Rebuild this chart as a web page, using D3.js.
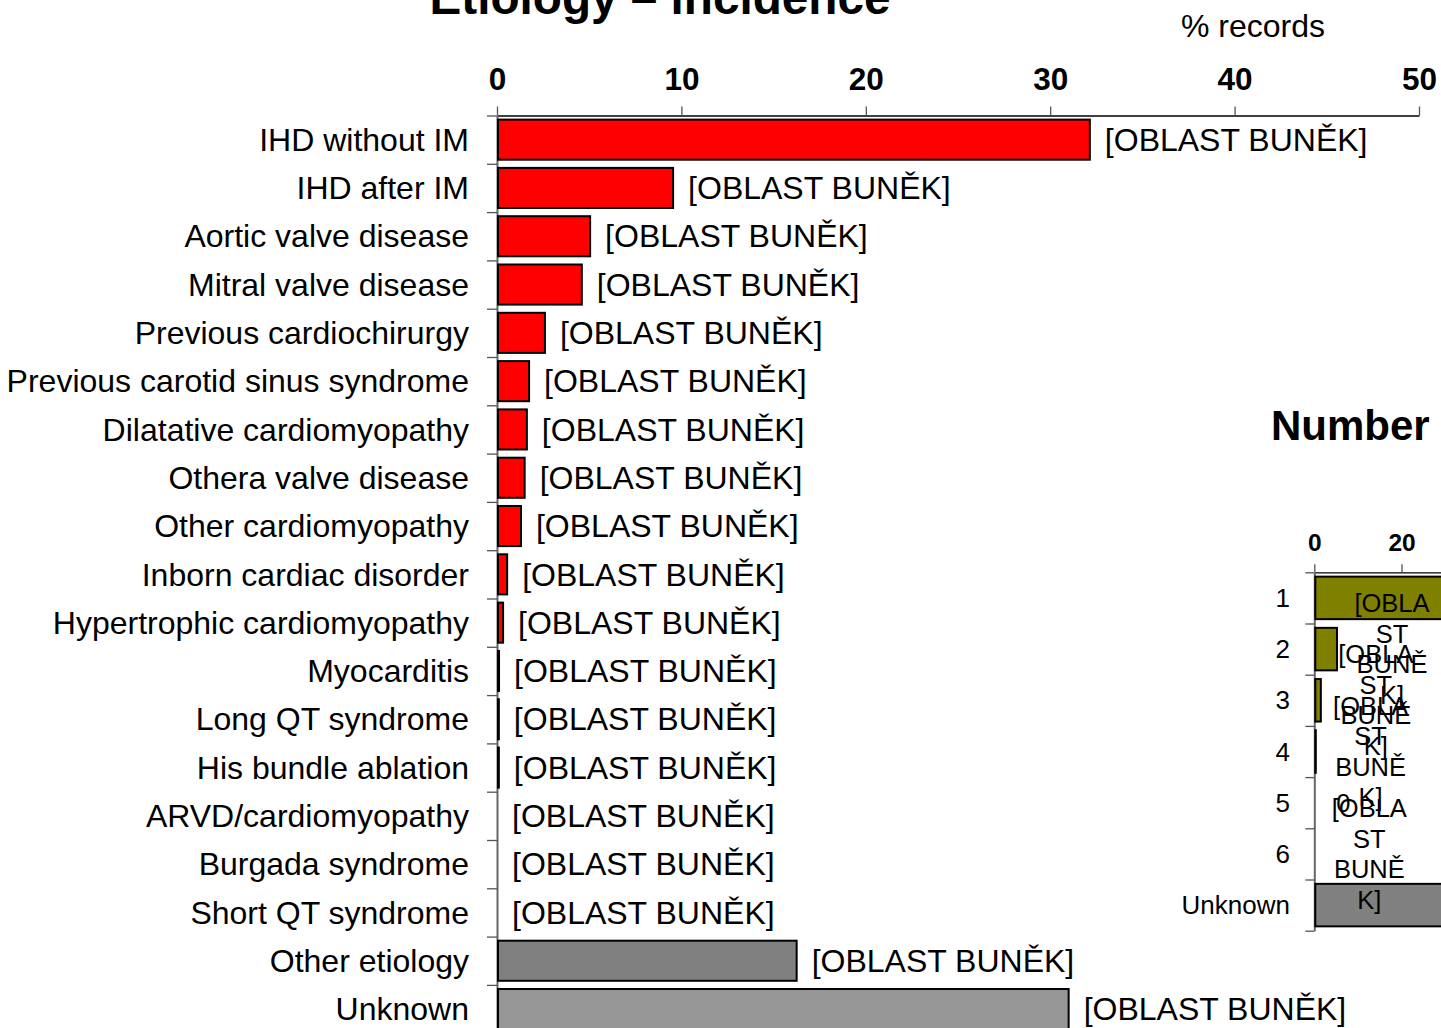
<!DOCTYPE html>
<html>
<head>
<meta charset="utf-8">
<script src="https://cdn.jsdelivr.net/npm/d3@7"></script>
<style>
  html, body { margin: 0; padding: 0; background: #fff; overflow: hidden; }
  svg { display: block; font-family: "Liberation Sans", Arial, sans-serif; }
</style>
</head>
<body>
<svg id="chart" width="1441" height="1028"></svg>
<script>
// Etiology – share of records per cause (%)
const etiologyCategories = [
  "IHD without IM", "IHD after IM", "Aortic valve disease", "Mitral valve disease",
  "Previous cardiochirurgy", "Previous carotid sinus syndrome", "Dilatative cardiomyopathy",
  "Othera valve disease", "Other cardiomyopathy", "Inborn cardiac disorder",
  "Hypertrophic cardiomyopathy", "Myocarditis", "Long QT syndrome", "His bundle ablation",
  "ARVD/cardiomyopathy", "Burgada syndrome", "Short QT syndrome", "Other etiology", "Unknown"
];
const etiologyValues = [32.15, 9.55, 5.05, 4.6, 2.6, 1.74, 1.62, 1.5, 1.3, 0.55, 0.33,
  0.11, 0.1, 0.1, 0, 0, 0, 16.25, 31.0];
const etiologyGroups = ["cardiac", "cardiac", "cardiac", "cardiac", "cardiac", "cardiac", "cardiac",
  "cardiac", "cardiac", "cardiac", "cardiac", "cardiac", "cardiac", "cardiac", "cardiac", "cardiac",
  "cardiac", "other", "unknown"];
const etiologyTicks = [0, 10, 20, 30, 40, 50];
const cellLabel = "[OBLAST BUNĚK]";

// Number of etiologies per record (%)
const numberCategories = ["1", "2", "3", "4", "5", "6", "Unknown"];
const numberValues = [55, 5.2, 1.5, 0.3, 0, 0, 31.0];
const numberLabels = [cellLabel, cellLabel, cellLabel, cellLabel, "0", cellLabel, cellLabel];
const numberTicks = [0, 20, 40, 60, 80, 100];

const groupFill = { cardiac: "#ff0000", other: "#808080", unknown: "#969696" };

const svg = d3.select("#chart");

// ---------- main chart ----------
const m = { left: 497, top: 115.5, step: 48.3 };
const n = etiologyCategories.length;
const x = d3.scaleLinear().domain([0, 50]).range([m.left, m.left + 922]);
const y = d3.scaleBand().domain(etiologyCategories)
  .range([m.top, m.top + n * m.step]).paddingInner(0.17).paddingOuter(0.085);
const yEdge = d3.scaleLinear().domain([0, n]).range([m.top, m.top + n * m.step]);

svg.append("text")
  .attr("x", 660).attr("y", 14).attr("text-anchor", "middle")
  .style("font-weight", "bold").style("font-size", "47.7px")
  .text("Etiology – incidence");

svg.append("text")
  .attr("x", 1325).attr("y", 37).attr("text-anchor", "end")
  .style("font-size", "32px")
  .text("% records");

const xAxis = svg.append("g")
  .attr("transform", `translate(0,${m.top})`)
  .call(d3.axisTop(x).tickValues(etiologyTicks).tickSize(9).tickPadding(17).tickSizeOuter(0));
xAxis.select(".domain").attr("stroke", "#000").attr("stroke-width", 1.3);
xAxis.selectAll(".tick line").attr("stroke", "#555").attr("stroke-width", 1.3);
xAxis.selectAll(".tick text")
  .style("font-size", "31.5px").style("font-weight", "bold").attr("fill", "#000")
  .attr("dy", "0em");

const yAxis = svg.append("g")
  .attr("transform", `translate(${m.left},0)`)
  .call(d3.axisLeft(yEdge).tickValues(d3.range(0, n + 1)).tickSize(10).tickFormat("").tickSizeOuter(0));
yAxis.select(".domain").attr("stroke", "#666").attr("stroke-width", 2);
yAxis.selectAll(".tick line").attr("stroke", "#555").attr("stroke-width", 1.3);

svg.append("g").selectAll("text")
  .data(etiologyCategories).join("text")
  .attr("x", 469)
  .attr("y", d => y(d) + y.bandwidth() / 2)
  .attr("dy", "0.35em").attr("text-anchor", "end")
  .style("font-size", "32px")
  .text(d => d);

const rows = etiologyCategories.map((c, i) => ({ c, v: etiologyValues[i], g: etiologyGroups[i] }));

svg.append("g").selectAll("rect")
  .data(rows.filter(d => d.v > 0)).join("rect")
  .attr("x", x(0) + 1)
  .attr("y", d => y(d.c))
  .attr("width", d => Math.max(0.5, x(d.v) - x(0) - 1))
  .attr("height", y.bandwidth())
  .attr("fill", d => groupFill[d.g])
  .attr("stroke", "#000").attr("stroke-width", 2);

svg.append("g").selectAll("text")
  .data(rows).join("text")
  .attr("x", d => x(d.v) + 15)
  .attr("y", d => y(d.c) + y.bandwidth() / 2)
  .attr("dy", "0.35em")
  .style("font-size", "32px")
  .text(cellLabel);

// ---------- "Number" chart ----------
const s = { left: 1314.3, top: 572.3, step: 51.2 };
const k = numberCategories.length;
const x2 = d3.scaleLinear().domain([0, 100]).range([s.left, s.left + 436]);
const y2 = d3.scaleBand().domain(numberCategories)
  .range([s.top, s.top + k * s.step]).paddingInner(0.17).paddingOuter(0.085);
const y2Edge = d3.scaleLinear().domain([0, k]).range([s.top, s.top + k * s.step]);

svg.append("text")
  .attr("x", 1271).attr("y", 440)
  .style("font-weight", "bold").style("font-size", "42px")
  .text("Number");

const x2Axis = svg.append("g")
  .attr("transform", `translate(0,${s.top})`)
  .call(d3.axisTop(x2).tickValues(numberTicks).tickSize(8).tickPadding(13).tickSizeOuter(0));
x2Axis.select(".domain").attr("stroke", "#000").attr("stroke-width", 1.3);
x2Axis.selectAll(".tick line").attr("stroke", "#555").attr("stroke-width", 1.3);
x2Axis.selectAll(".tick text")
  .style("font-size", "24.5px").style("font-weight", "bold").attr("fill", "#000")
  .attr("dy", "0em");

const y2Axis = svg.append("g")
  .attr("transform", `translate(${s.left},0)`)
  .call(d3.axisLeft(y2Edge).tickValues(d3.range(0, k + 1)).tickSize(9).tickFormat("").tickSizeOuter(0));
y2Axis.select(".domain").attr("stroke", "#666").attr("stroke-width", 2);
y2Axis.selectAll(".tick line").attr("stroke", "#555").attr("stroke-width", 1.3);

svg.append("g").selectAll("text")
  .data(numberCategories).join("text")
  .attr("x", 1290)
  .attr("y", d => y2(d) + y2.bandwidth() / 2)
  .attr("dy", "0.35em").attr("text-anchor", "end")
  .style("font-size", "26px")
  .text(d => d);

const rows2 = numberCategories.map((c, i) => ({ c, v: numberValues[i], label: numberLabels[i] }));

svg.append("g").selectAll("rect")
  .data(rows2.filter(d => d.v > 0)).join("rect")
  .attr("x", x2(0) + 1)
  .attr("y", d => y2(d.c))
  .attr("width", d => Math.max(0.5, x2(d.v) - x2(0) - 1))
  .attr("height", y2.bandwidth())
  .attr("fill", d => d.c === "Unknown" ? "#808080" : "#808000")
  .attr("stroke", "#000").attr("stroke-width", 2);

// data labels wrap into a narrow column, centred on the row, just past the bar end
const lineH = 30.5;
function wrapLabel(t) {
  if (t.length <= 5) return [t];
  const parts = [];
  const words = t.split(" ");
  parts.push(words[0].slice(0, 5), words[0].slice(5));
  parts.push(words[1].slice(0, 4), words[1].slice(4));
  return parts.filter(p => p.length);
}
const lab = svg.append("g").selectAll("text")
  .data(rows2).join("text")
  .attr("text-anchor", "middle")
  .style("font-size", "25.5px")
  .attr("transform", d => {
    const lines = wrapLabel(d.label);
    const half = lines.length > 1 ? 38 : 12;
    return `translate(${x2(d.v) + 17 + half},${y2(d.c) + y2.bandwidth() / 2})`;
  });
lab.each(function (d) {
  const lines = wrapLabel(d.label);
  const t = d3.select(this);
  lines.forEach((line, i) => {
    t.append("tspan")
      .attr("x", 0)
      .attr("y", (i - (lines.length - 1) / 2) * lineH)
      .attr("dy", "0.35em")
      .text(line);
  });
});
</script>
</body>
</html>
